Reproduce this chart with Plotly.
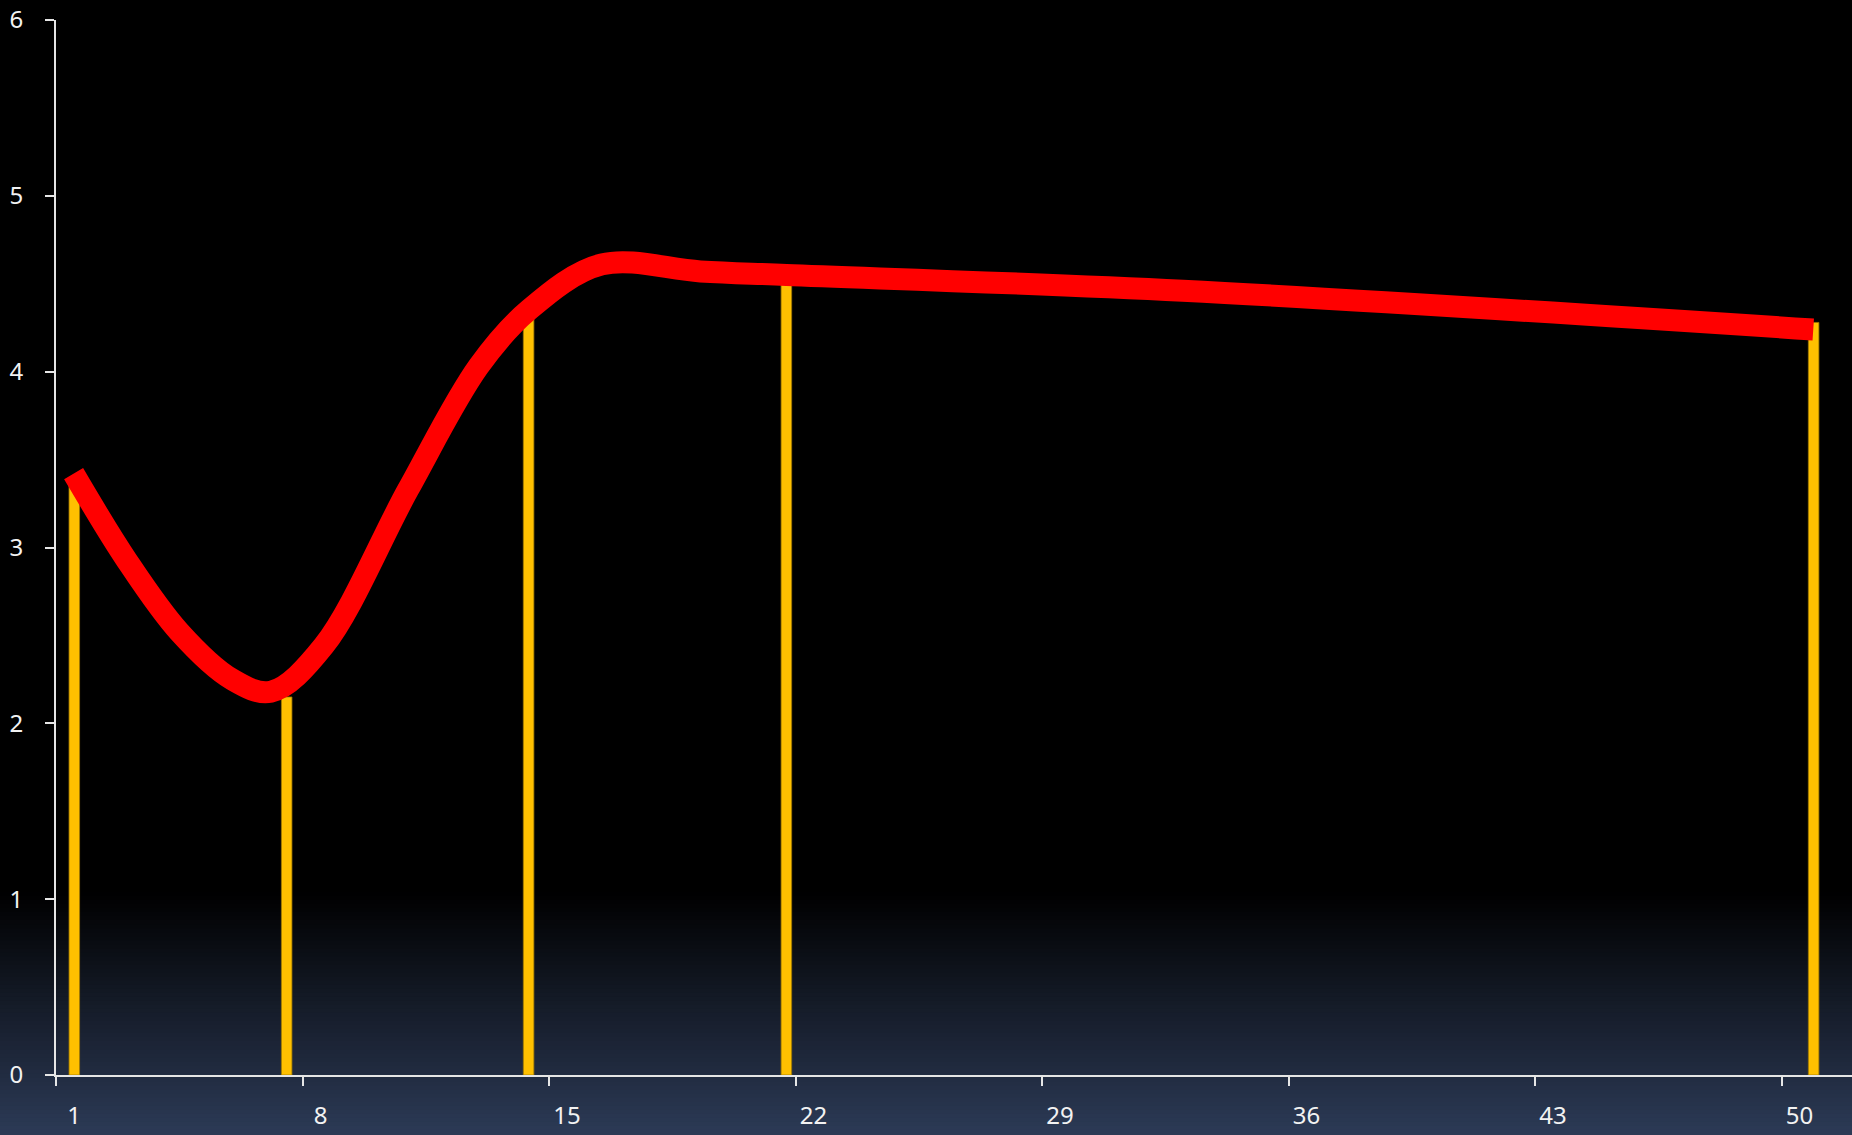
import plotly.graph_objects as go

# ---- data ----
line_x = [1.5, 3.0, 4.5, 6.0, 7.1, 8.6, 11.0, 13.0, 14.42, 16.5, 19.3, 21.74, 33.0, 50.9]
line_y = [3.42, 2.93, 2.52, 2.25, 2.18, 2.44, 3.33, 4.03, 4.35, 4.61, 4.57, 4.55, 4.46, 4.24]
bar_x = [1.52, 7.55, 14.42, 21.74, 50.91]
bar_y = [3.38, 2.15, 4.33, 4.53, 4.28]
x_ticks = [1, 8, 15, 22, 29, 36, 43, 50]
x_tick_text = ["1", "8", "15", "22", "29", "36", "43", "50"]
y_ticks = [0, 1, 2, 3, 4, 5, 6]

W, H = 1852, 1135

fig = go.Figure()
fig.add_trace(go.Bar(
    x=bar_x, y=bar_y, width=0.30,
    marker=dict(color="#FFC000", line=dict(color="#a07800", width=0.8)),
    hoverinfo="skip", showlegend=False,
))
fig.add_trace(go.Scatter(
    x=line_x, y=line_y, mode="lines",
    line=dict(color="#FF0000", width=22, shape="spline", smoothing=1.0),
    hoverinfo="skip", showlegend=False,
))

# background gradient (black -> dark slate blue at the bottom)
shapes = []
g_top = (H - 893) / H
n = 60
c0 = (0, 0, 0)
c1 = (44, 58, 86)
for i in range(n):
    f0 = i / n
    f1 = (i + 1) / n
    fm = (i + 0.5) / n
    col = tuple(round(c0[k] + (c1[k] - c0[k]) * fm) for k in range(3))
    shapes.append(dict(
        type="rect", xref="paper", yref="paper",
        x0=0, x1=1, y0=g_top * (1 - f1), y1=g_top * (1 - f0) + 0.001,
        fillcolor="rgb(%d,%d,%d)" % col, line=dict(width=0), layer="below",
    ))

axis_font = dict(family="Noto Sans, Open Sans, sans-serif", size=24, color="#f2f2f2")

fig.update_layout(
    width=W, height=H,
    margin=dict(l=0, r=0, t=0, b=0, autoexpand=False),
    paper_bgcolor="#000000",
    plot_bgcolor="rgba(0,0,0,0)",
    shapes=shapes,
    showlegend=False,
    xaxis=dict(
        domain=[56 / W, 1],
        range=[1, 52],
        tickmode="array", tickvals=x_ticks, ticktext=x_tick_text,
        ticks="outside", ticklen=9, tickwidth=2, tickcolor="#e6e6e6",
        showline=True, linecolor="#e6e6e6", linewidth=2,
        showgrid=False, zeroline=False,
        tickfont=axis_font,
        ticklabelshift=18, ticklabelstandoff=9,
        fixedrange=True,
    ),
    yaxis=dict(
        domain=[(H - 1075) / H, (H - 20) / H],
        range=[0, 6],
        tickmode="array", tickvals=y_ticks,
        ticks="outside", ticklen=9, tickwidth=2, tickcolor="#e6e6e6",
        showline=True, linecolor="#e6e6e6", linewidth=2,
        showgrid=False, zeroline=False,
        tickfont=axis_font,
        ticklabelstandoff=17,
        fixedrange=True,
    ),
)

fig.write_html(
    "out.html",
    config={"displayModeBar": False},
    post_script="document.body.style.margin='0';document.body.style.overflow='hidden';document.body.style.background='#000';",
)
